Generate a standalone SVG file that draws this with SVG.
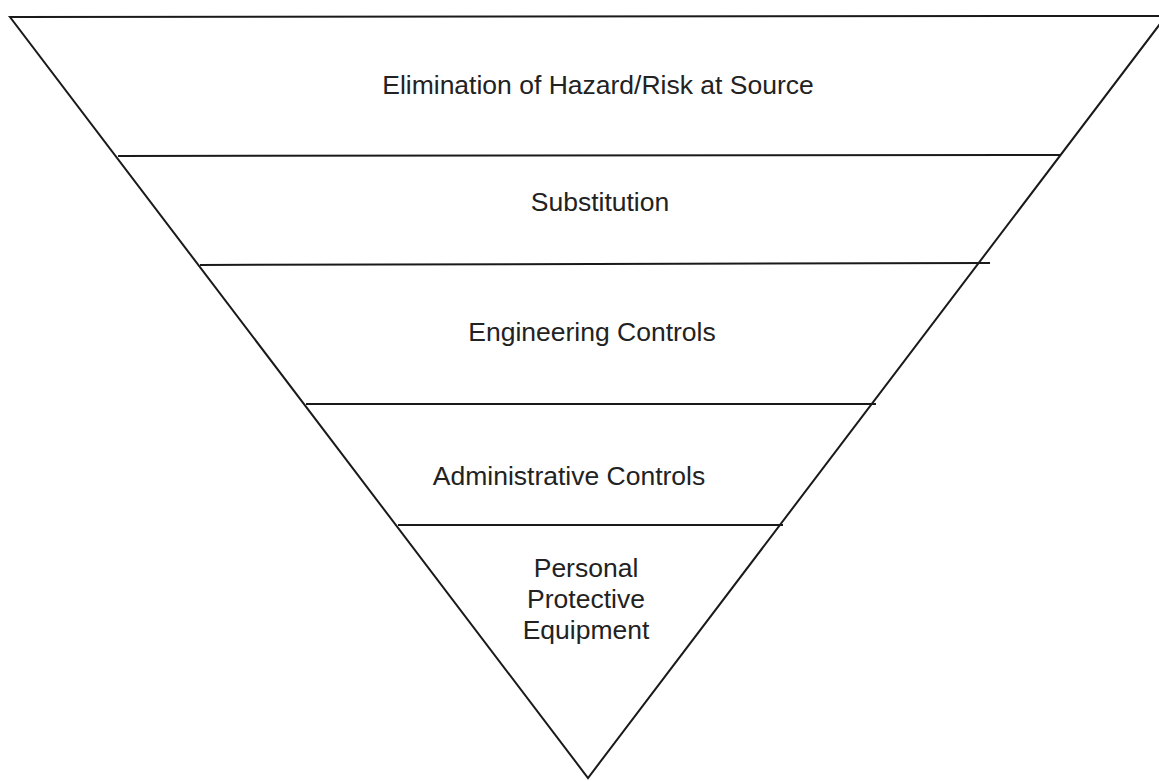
<svg xmlns="http://www.w3.org/2000/svg" width="1159" height="781" viewBox="0 0 1159 781">
<style>
.ln{stroke:#1a1a1a;stroke-width:2;fill:none}
.t{font-family:"Liberation Sans",Arial,sans-serif;font-size:26.5px;fill:#222;text-anchor:middle}
</style>
<rect width="1159" height="781" fill="#fff"/>
<g id="connectors">
<polyline class="ln" points="1159,16 10,17 588,778 1166,16"/>
<line class="ln" x1="118" y1="156" x2="1060" y2="155"/>
<line class="ln" x1="200" y1="265" x2="990" y2="263"/>
<line class="ln" x1="306" y1="404" x2="876" y2="404"/>
<line class="ln" x1="398" y1="525" x2="783" y2="525"/>
</g>
<g id="elimination"><text class="t" x="598" y="94">Elimination of Hazard/Risk at Source</text></g>
<g id="substitution"><text class="t" x="600" y="211">Substitution</text></g>
<g id="engineering"><text class="t" x="592" y="341">Engineering Controls</text></g>
<g id="administrative"><text class="t" x="569" y="485">Administrative Controls</text></g>
<g id="ppe"><text class="t" x="586" y="577">Personal</text><text class="t" x="586" y="608">Protective</text><text class="t" x="586" y="639">Equipment</text></g>
</svg>
